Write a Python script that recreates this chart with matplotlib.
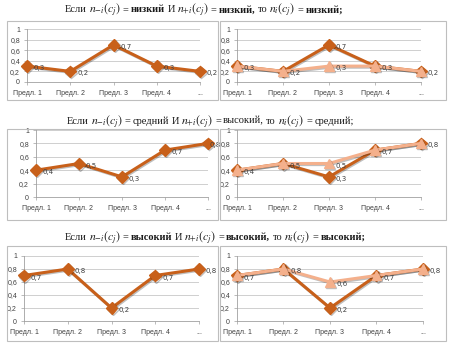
import matplotlib
matplotlib.use("Agg")
import matplotlib.pyplot as plt
import matplotlib.patheffects as pe
from matplotlib.patches import Rectangle

W, H = 449, 355

categories = ["Предл. 1", "Предл. 2", "Предл. 3", "Предл. 4", "..."]
yticks = [0, 0.2, 0.4, 0.6, 0.8, 1.0]

# left panels: one series; right panels: same series + corrected series
low_base = [0.3, 0.2, 0.7, 0.3, 0.2]
low_fixed = [0.3, 0.2, 0.3, 0.3, 0.2]
mid_base = [0.4, 0.5, 0.3, 0.7, 0.8]
mid_fixed = [0.4, 0.5, 0.5, 0.7, 0.8]
high_base = [0.7, 0.8, 0.2, 0.7, 0.8]
high_fixed = [0.7, 0.8, 0.6, 0.7, 0.8]

DARK = "#C8601A"
LIGHT = "#F4B08C"
GRID = "#C8C8C8"
TXT = "#404040"

plt.rcParams["mathtext.fontset"] = "stix"
fig = plt.figure(figsize=(W / 100, H / 100), dpi=100)
fig.patch.set_facecolor("white")


def fmt(v):
    return ("%g" % v).replace(".", ",")


def px_axes(x0, x1, ytop, ybot):
    return fig.add_axes([x0 / W, 1 - ybot / H, (x1 - x0) / W, (ybot - ytop) / H])


def box(x0, x1, ytop, ybot):
    fig.patches.append(Rectangle((x0 / W, 1 - ybot / H), (x1 - x0) / W, (ybot - ytop) / H,
                                 transform=fig.transFigure, fill=False,
                                 edgecolor="#BEBEBE", lw=0.8))


def series(ax, vals, color, marker, ms, z):
    xs = range(len(vals))
    ax.plot(xs, vals, color=color, lw=2.2, marker=marker, ms=ms, clip_on=False, zorder=z,
            path_effects=[pe.SimpleLineShadow(offset=(0.8, -0.8), alpha=0.25), pe.Normal()])


def label(ax, i, v, dx=5):
    ax.annotate(fmt(v), (i, v), xytext=(dx, -1.5), textcoords="offset points",
                fontsize=5, color=TXT, va="center", ha="left", zorder=10,
                annotation_clip=False)


def style(ax):
    ax.set_xlim(0, 4)
    ax.set_ylim(0, 1)
    ax.set_yticks(yticks)
    ax.set_yticklabels([fmt(t) for t in yticks], fontsize=5, color=TXT, family="Liberation Sans")
    ax.set_xticks(range(5))
    ax.set_xticklabels(categories, fontsize=5, color=TXT, family="Liberation Sans")
    ax.grid(True, axis="y", color=GRID, lw=0.6)
    ax.set_axisbelow(True)
    for s in ["top", "right"]:
        ax.spines[s].set_visible(False)
    for s in ["left", "bottom"]:
        ax.spines[s].set_color("#A0A0A0")
        ax.spines[s].set_linewidth(0.6)
    ax.tick_params(axis="y", length=2, width=0.5, color="#A0A0A0", pad=3)
    ax.tick_params(axis="x", length=2.5, width=0.5, color="#A0A0A0", pad=3)
    ax.set_facecolor("none")


def draw_title(y, pieces, x0):
    r = fig.canvas.get_renderer()
    x = x0
    for s, bold in pieces:
        is_math = s.startswith("$")
        t = fig.text(x / W, 1 - y / H, s, fontsize=8.5 if is_math else 7.5,
                     family="Liberation Serif",
                     fontweight="bold" if bold else "normal", va="center", ha="left",
                     color="#1A1A1A")
        bb = t.get_window_extent(renderer=r)
        x += bb.width + 2.2


rows = [
    (low_base, low_fixed, (21, 100), [(27, 200), (237, 421)], (29, 82), 10,
     ("низкий", "низкий", "низкий"), True, 65),
    (mid_base, mid_fixed, (129, 220), [(36, 208), (237, 421)], (130, 197), 121,
     ("средний", "высокий", "средний"), False, 67),
    (high_base, high_fixed, (246, 341), [(24, 199), (237, 423)], (256, 321), 237,
     ("высокий", "высокий", "высокий"), True, 65),
]

for base, fixed, (bt, bb_), pan, (yt, yb), ty, words, bold, tx in rows:
    box(7, 218, bt, bb_)
    box(220, 446, bt, bb_)

    ax = px_axes(pan[0][0], pan[0][1], yt, yb)
    style(ax)
    series(ax, base, DARK, "D", 6, 3)
    for i, v in enumerate(base):
        # the last label sits on the marker when the panel is tight on the right
        label(ax, i, v, dx=1 if (i == 4 and pan[0][1] > 205) else 5)

    ax = px_axes(pan[1][0], pan[1][1], yt, yb)
    style(ax)
    series(ax, base, DARK, "D", 6, 3)
    series(ax, fixed, LIGHT, "^", 7, 4)
    for i, v in enumerate(fixed):
        label(ax, i, v)
        if base[i] != v:
            label(ax, i, base[i])

    pieces = [
        ("Если", False), ("$n_{-i}(c_j)$", False), ("=", False), (words[0], bold),
        ("И", False), ("$n_{+i}(c_j)$", False), ("=", False), (words[1] + ",", bold),
        ("то", False), ("$n_i(c_j)$", False), ("=", False), (words[2] + ";", bold),
    ]
    draw_title(ty, pieces, tx)

fig.savefig("out.png", dpi=100, facecolor="white")
